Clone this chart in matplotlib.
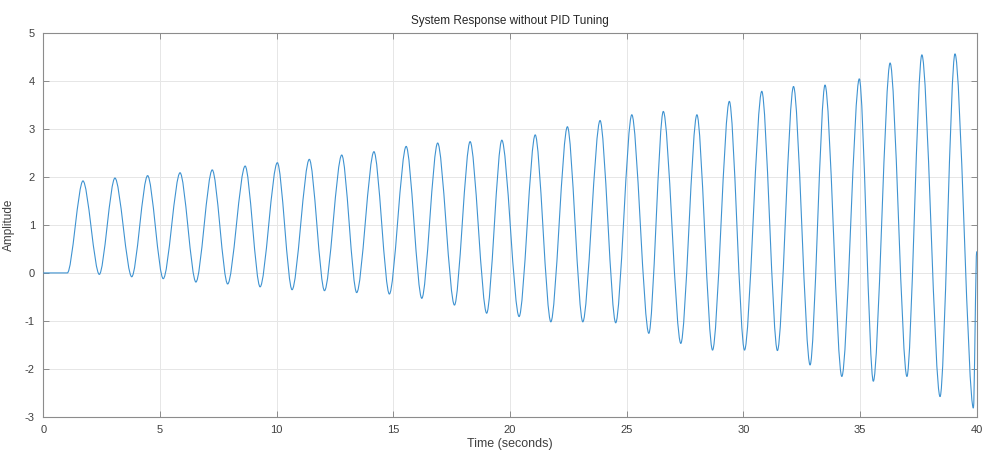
import numpy as np
import matplotlib
matplotlib.use("Agg")
import matplotlib.pyplot as plt
from matplotlib.path import Path
from matplotlib.patches import PathPatch

# extrema of the response (start, alternating peaks/troughs, end)
t_pts = [0.0, 1.03, 1.70, 2.40, 3.07, 3.79, 4.47, 5.14, 5.86, 6.54, 7.24, 7.90,
         8.65, 9.29, 10.03, 10.66, 11.40, 12.05, 12.79, 13.43, 14.17, 14.83,
         15.55, 16.22, 16.90, 17.62, 18.29, 19.00, 19.65, 20.39, 21.08, 21.75,
         22.46, 23.12, 23.86, 24.53, 25.22, 25.95, 26.57, 27.32, 28.01, 28.68,
         29.40, 30.05, 30.79, 31.46, 32.15, 32.86, 33.50, 34.22, 34.97, 35.57,
         36.29, 37.01, 37.65, 38.43, 39.07, 39.86, 40.0]
y_pts = [0.0, 0.0, 1.92, -0.03, 1.98, -0.08, 2.03, -0.12, 2.09, -0.19, 2.15, -0.23,
         2.23, -0.29, 2.30, -0.35, 2.37, -0.37, 2.46, -0.41, 2.53, -0.44,
         2.64, -0.53, 2.71, -0.67, 2.74, -0.84, 2.77, -0.91, 2.88, -1.02,
         3.05, -1.02, 3.18, -1.04, 3.30, -1.26, 3.37, -1.47, 3.30, -1.61,
         3.58, -1.61, 3.79, -1.62, 3.89, -1.92, 3.92, -2.16, 4.05, -2.26,
         4.38, -2.16, 4.55, -2.58, 4.57, -2.82, 0.45]

x_ticks = [0, 5, 10, 15, 20, 25, 30, 35, 40]
y_ticks = [-3, -2, -1, 0, 1, 2, 3, 4, 5]

plt.rcParams["font.family"] = ["Liberation Sans", "DejaVu Sans"]
plt.rcParams["axes.unicode_minus"] = False

fig = plt.figure(figsize=(9.82, 4.53), dpi=100)
ax = fig.add_axes([0.0441, 0.0801, 0.9505, 0.8464])

# smooth curve through the extrema: cubic Bezier segments, flat tangent at each extremum
K = 0.3
verts, codes = [(t_pts[0], y_pts[0])], [Path.MOVETO]
for (x0, y0), (x1, y1) in zip(zip(t_pts[:-1], y_pts[:-1]), zip(t_pts[1:], y_pts[1:])):
    dx = x1 - x0
    verts += [(x0 + K * dx, y0), (x1 - K * dx, y1), (x1, y1)]
    codes += [Path.CURVE4] * 3
ax.add_patch(PathPatch(Path(verts, codes), facecolor="none",
                       edgecolor="#3f93d1", lw=0.8, zorder=3))

ax.set_xlim(0, 40)
ax.set_ylim(-3, 5)
ax.set_xticks(x_ticks)
ax.set_yticks(y_ticks)
ax.grid(True, color="#e6e6e6", lw=0.7)
ax.set_axisbelow(True)
ax.tick_params(direction="in", top=True, right=True, length=4, width=0.7,
               colors="#8c8c8c", labelcolor="#404040", labelsize=8, pad=6)
for s in ax.spines.values():
    s.set_color("#8c8c8c")
    s.set_linewidth(0.8)

ax.set_title("System Response without PID Tuning", fontsize=8.5, color="#262626", pad=7)
ax.set_xlabel("Time (seconds)", fontsize=9, color="#404040", labelpad=2)
ax.set_ylabel("Amplitude", fontsize=8.5, color="#404040", labelpad=7)

fig.savefig("out.png", dpi=100)
